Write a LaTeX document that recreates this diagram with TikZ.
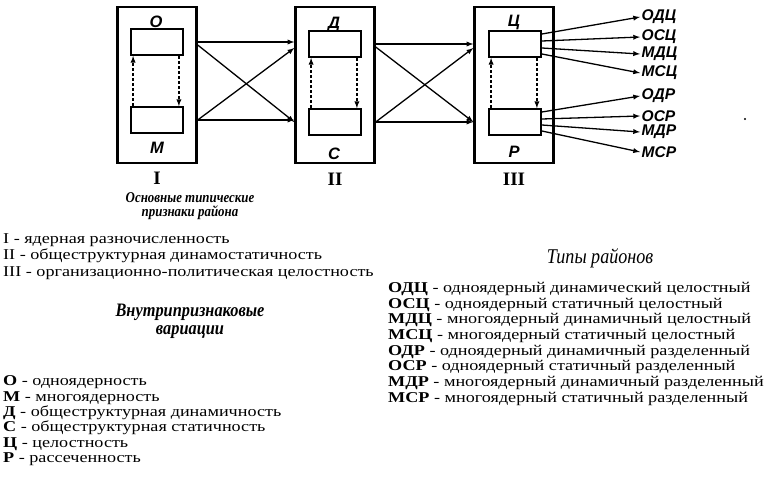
\documentclass[tikz,border=0pt]{standalone}
\usepackage{fontspec}
\setmainfont{Liberation Serif}
\newfontfamily\diagfont{Liberation Sans}
\newfontfamily\legendfont{Liberation Serif}[FakeStretch=1.21]
\newfontfamily\headfont{Liberation Serif}[FakeStretch=0.86]
\usetikzlibrary{positioning}
\tikzset{>=latex}

\begin{document}
\begin{tikzpicture}[x=1pt,y=-1pt,
  outer/.style={draw,line width=2.4pt,minimum width=79pt,minimum height=156pt},
  inner/.style={draw,line width=1.8pt,minimum width=52pt,minimum height=26pt},
  letter/.style={font=\diagfont\bfseries\itshape\fontsize{16.5}{16.5}\selectfont,inner sep=0pt},
  numeral/.style={font=\bfseries\fontsize{19}{19}\selectfont},
  link/.style={->,line width=1.3pt},
  vary/.style={->,line width=1.3pt,densely dashed},
  typelabel/.style={font=\diagfont\bfseries\itshape\fontsize{15.5}{15.5}\selectfont,anchor=west,inner sep=1.5pt},
  head/.style={font=\headfont\bfseries\itshape\fontsize{15}{14}\selectfont,align=center},
  bighead/.style={font=\headfont\bfseries\itshape\fontsize{19}{18}\selectfont,align=center},
  legend/.style={font=\legendfont\fontsize{15}{15}\selectfont,anchor=west,inner sep=0pt}]
\useasboundingbox (0,0) rectangle (779,484);
% three main features
\node[outer] (boxI) at (157,85) {};
\node[outer] (boxII) at (335,85) {};
\node[outer] (boxIII) at (514,85) {};
\node[inner] (O) at (157,42) {};
\node[inner] (M) at (157,120) {};
\node[inner] (D) at (335,44) {};
\node[inner] (S) at (335,122) {};
\node[inner] (Ts) at (515,44) {};
\node[inner] (R) at (515,122) {};
\node[letter] at (156,22) {О};
\node[letter] at (157,148) {М};
\node[letter] at (334,24) {Д};
\node[letter] at (334,154) {С};
\node[letter] at (514,22) {Ц};
\node[letter] at (514,152) {Р};
\node[numeral] at (157,178) {I};
\node[numeral] at (335,179) {II};
\node[numeral] at (514,179) {III};
% variations inside
\draw[vary] ([xshift=3pt]M.north west) -- ([xshift=3pt]O.south west);
\draw[vary] ([xshift=-5pt]O.south east) -- ([xshift=-5pt]M.north east);
\draw[vary] ([xshift=3pt]S.north west) -- ([xshift=3pt]D.south west);
\draw[vary] ([xshift=-5pt]D.south east) -- ([xshift=-5pt]S.north east);
\draw[vary] ([xshift=3pt]R.north west) -- ([xshift=3pt]Ts.south west);
\draw[vary] ([xshift=-5pt]Ts.south east) -- ([xshift=-5pt]R.north east);
% links between features
\draw[link] (boxI.east |- O) -- (boxII.west |- O);
\draw[link] ([yshift=-3pt]boxI.east |- O) -- (boxII.west |- S);
\draw[link] (boxI.east |- M) -- ([yshift=-4pt]boxII.west |- D);
\draw[link] (boxI.east |- M) -- (boxII.west |- M);
\draw[link] (boxII.east |- D) -- (boxIII.west |- D);
\draw[link] ([yshift=-3pt]boxII.east |- D) -- (boxIII.west |- R);
\draw[link] (boxII.east |- S) -- ([yshift=-4pt]boxIII.west |- Ts);
\draw[link] (boxII.east |- S) -- (boxIII.west |- S);
% district types
\node[typelabel] (odc) at (640,17) {ОДЦ};
\node[typelabel] (osc) at (640,37) {ОСЦ};
\node[typelabel] (mdc) at (640,54) {МДЦ};
\node[typelabel] (msc) at (640,73) {МСЦ};
\node[typelabel] (odr) at (640,96) {ОДР};
\node[typelabel] (osr) at (640,116) {ОСР};
\node[typelabel] (mdr) at (640,132) {МДР};
\node[typelabel] (msr) at (640,152) {МСР};
\draw[link] ([yshift=10pt]Ts.east) -- (odc.west);
\draw[link] ([yshift=3pt]Ts.east) -- (osc.west);
\draw[link] ([yshift=-4pt]Ts.east) -- (mdc.west);
\draw[link] ([yshift=-10pt]Ts.east) -- (msc.west);
\draw[link] ([yshift=10pt]R.east) -- (odr.west);
\draw[link] ([yshift=3pt]R.east) -- (osr.west);
\draw[link] ([yshift=-3pt]R.east) -- (mdr.west);
\draw[link] ([yshift=-9pt]R.east) -- (msr.west);
\fill (745,119) circle (1.1pt);
% legends
\node[head] (mainhead) at (190,206) {Основные типические\\признаки района};
\node[legend] (lI) at (3,240) {I - ядерная разночисленность};
\node[legend] (lII) at (3,256) {II - общеструктурная динамостатичность};
\node[legend] (lIII) at (3,273) {III - организационно-политическая целостность};
\node[bighead] (varhead) at (190,321) {Внутрипризнаковые\\вариации};
\node[legend] (lO) at (3,382) {\textbf{О} - одноядерность};
\node[legend] (lM) at (3,398) {\textbf{М} - многоядерность};
\node[legend] (lD) at (3,413) {\textbf{Д} - общеструктурная динамичность};
\node[legend] (lS) at (3,428) {\textbf{С} - общеструктурная статичность};
\node[legend] (lTs) at (3,444) {\textbf{Ц} - целостность};
\node[legend] (lR) at (3,459) {\textbf{Р} - рассеченность};
\node[font=\headfont\itshape\fontsize{21}{21}\selectfont] (typehead) at (600,258) {Типы районов};
\node[legend] (lodc) at (388,289) {\textbf{ОДЦ} - одноядерный динамический целостный};
\node[legend] (losc) at (388,305) {\textbf{ОСЦ} - одноядерный статичный целостный};
\node[legend] (lmdc) at (388,320) {\textbf{МДЦ} - многоядерный динамичный целостный};
\node[legend] (lmsc) at (388,336) {\textbf{МСЦ} - многоядерный статичный целостный};
\node[legend] (lodr) at (388,352) {\textbf{ОДР} - одноядерный динамичный разделенный};
\node[legend] (losr) at (388,367) {\textbf{ОСР} - одноядерный статичный разделенный};
\node[legend] (lmdr) at (388,383) {\textbf{МДР} - многоядерный динамичный разделенный};
\node[legend] (lmsr) at (388,399) {\textbf{МСР} - многоядерный статичный разделенный};
\end{tikzpicture}
\end{document}
